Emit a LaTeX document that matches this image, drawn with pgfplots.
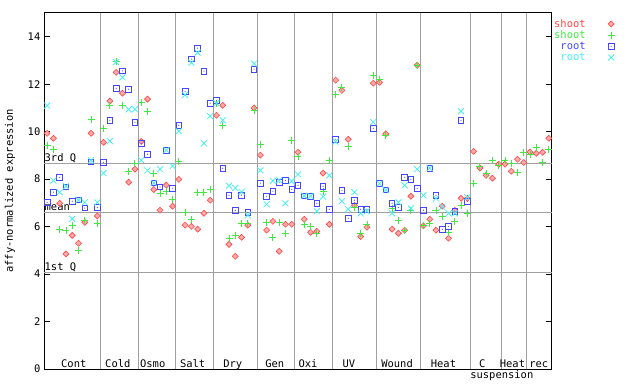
\documentclass[border=0pt]{standalone}
\usepackage{fontspec}
\setmainfont{DejaVu Sans Mono}
\usepackage{pgfplots}
\usepackage{pgfplotstable}
\pgfplotsset{compat=1.18}
\definecolor{gpred}{HTML}{FF4545}
\definecolor{gpgreen}{HTML}{40E840}
\definecolor{gpblue}{HTML}{4545FF}
\definecolor{gpcyan}{HTML}{45F0F0}
\definecolor{gpgrid}{HTML}{A0A0A0}
\pgfdeclareplotmark{gpdiamond}{%
  \pgfpathmoveto{\pgfqpoint{0pt}{\pgfplotmarksize}}%
  \pgfpathlineto{\pgfqpoint{\pgfplotmarksize}{0pt}}%
  \pgfpathlineto{\pgfqpoint{0pt}{-\pgfplotmarksize}}%
  \pgfpathlineto{\pgfqpoint{-\pgfplotmarksize}{0pt}}%
  \pgfpathclose\pgfusepathqfillstroke}
\pgfdeclareplotmark{gpsquare}{%
  \pgfpathrectangle{\pgfqpoint{-\pgfplotmarksize}{-\pgfplotmarksize}}{\pgfqpoint{2\pgfplotmarksize}{2\pgfplotmarksize}}%
  \pgfusepathqstroke
  \pgfpathcircle{\pgfpointorigin}{0.6pt}\pgfusepathqfill}

\pgfplotstableread{
x y
0 9.93
1 9.72
2 6.98
3 4.85
4 5.63
5 5.30
6 6.18
7 9.93
8 6.45
9 9.55
10 11.29
11 12.50
12 11.62
13 7.87
14 8.42
15 9.59
16 11.37
17 7.56
18 6.69
19 7.75
20 6.86
21 7.99
22 6.06
23 6.01
24 5.89
25 6.56
26 7.11
27 10.69
28 11.11
29 5.25
30 4.75
31 5.55
32 6.06
33 11.00
34 9.01
35 5.85
36 6.22
37 4.96
38 6.10
39 6.10
40 9.13
41 6.31
42 5.76
43 5.80
44 8.25
45 6.10
46 12.17
47 11.74
48 9.68
49 6.90
50 5.58
51 5.97
52 12.04
53 12.08
54 9.91
55 5.89
56 5.72
57 5.85
58 7.28
59 12.80
60 6.03
61 6.31
62 5.85
63 6.86
64 5.51
65 6.68
66 7.19
67 7.19
68 9.17
69 8.47
70 8.16
71 8.04
72 8.63
73 8.63
74 8.33
75 8.84
76 8.70
77 9.14
78 9.09
79 9.13
80 9.72
}\shootA

\pgfplotstableread{
x y
0 9.40
1 9.26
2 5.89
3 5.85
4 6.06
5 5.00
6 6.24
7 10.52
8 6.14
9 10.14
10 11.10
11 12.95
12 11.11
13 8.33
14 8.67
15 11.22
16 10.87
17 8.25
18 7.40
19 7.49
20 7.15
21 8.75
22 6.60
23 6.31
24 7.45
25 7.45
26 7.57
27 11.20
28 10.27
29 5.51
30 5.63
31 6.14
32 6.14
33 10.90
34 9.47
35 6.18
36 5.55
37 6.18
38 5.72
39 9.64
40 8.96
41 6.10
42 6.01
43 5.72
44 7.49
45 8.79
46 11.58
47 11.87
48 9.38
49 6.81
50 5.72
51 6.10
52 12.35
53 12.21
54 9.85
55 6.77
56 6.27
57 5.85
58 6.69
59 12.80
60 6.03
61 6.14
62 6.69
63 6.43
64 5.76
65 6.22
66 6.90
67 6.56
68 7.83
69 8.55
70 8.22
71 8.79
72 8.59
73 8.79
74 8.67
75 8.29
76 9.13
77 9.05
78 9.35
79 8.71
80 9.26
}\shootB

\pgfplotstableread{
x y
0 7.02
1 7.45
2 8.08
3 7.68
4 7.07
5 7.12
6 6.78
7 8.72
8 6.81
9 8.71
10 10.48
11 11.82
12 12.56
13 11.79
14 10.40
15 9.51
16 9.05
17 7.84
18 7.67
19 9.22
20 7.62
21 10.27
22 11.70
23 13.06
24 13.52
25 12.55
26 11.20
27 11.31
28 8.46
29 7.32
30 6.69
31 7.32
32 6.60
33 12.63
34 7.83
35 7.28
36 7.49
37 7.87
38 7.94
39 7.57
40 7.74
41 7.30
42 7.28
43 6.98
44 7.70
45 6.73
46 9.68
47 7.53
48 6.35
49 7.11
50 6.73
51 6.73
52 10.14
53 7.81
54 7.54
55 6.98
56 6.81
57 8.08
58 7.99
59 7.61
60 6.69
61 8.46
62 7.32
63 5.89
64 6.01
65 6.65
66 10.48
67 7.07
}\rootA

\pgfplotstableread{
x y
0 11.10
1 7.94
2 7.45
3 7.70
4 6.33
5 7.12
6 7.02
7 8.79
8 7.02
9 8.25
10 9.60
11 12.93
12 12.29
13 10.94
14 10.94
15 8.80
16 8.37
17 7.84
18 8.42
19 9.22
20 8.55
21 10.02
22 11.55
23 12.91
24 13.33
25 9.51
26 10.65
27 11.20
28 10.48
29 7.72
30 7.63
31 7.46
32 6.48
33 12.87
34 8.37
35 6.94
36 7.93
37 7.95
38 6.98
39 7.91
40 8.20
41 7.30
42 7.28
43 6.65
44 7.26
45 8.16
46 9.58
47 7.07
48 6.73
49 7.45
50 6.56
51 6.65
52 10.40
53 7.81
54 7.54
55 6.56
56 7.02
57 7.74
58 6.77
59 8.42
60 7.32
61 8.46
62 7.19
63 6.83
64 6.56
65 6.56
66 10.86
67 7.24
}\rootB

\begin{document}
\fontsize{10.5}{12}\selectfont
\begin{tikzpicture}
\begin{axis}[
  scale only axis, width=508bp, height=356bp,
  xmin=-0.5, xmax=80.5, ymin=0, ymax=15,
  xtick=\empty,
  ytick={0,2,...,14},
  tick align=inside, tick pos=both, yticklabel pos=left,
  major tick length=6bp,
  tick style={black, line width=0.8bp},
  axis line style={line width=1bp},
  /pgf/number format/assume math mode=true,
  extra x ticks={8.5,14.5,20.5,26.5,33.5,39.5,45.5,52.5,59.5,67.5,72.5,76.5},
  extra x tick labels={},
  extra x tick style={grid=major, major tick length=0pt},
  extra y ticks={4.07,6.60,8.67},
  extra y tick labels={},
  extra y tick style={grid=major, major tick length=0pt},
  grid style={gpgrid, line width=1bp},
  clip=false,
  ylabel={affy-normalized expression},
  every axis y label/.style={at={(axis description cs:-0.067,0.5)},rotate=90,anchor=center},
  legend plot pos=right,
  legend cell align=right,
  legend style={at={(axis description cs:1,1)}, anchor=north west, draw=none, fill=none,
    inner sep=0pt, row sep=-2bp, yshift=-4bp, xshift=0bp,
    font=\fontsize{10.5}{11}\selectfont,
    /tikz/every odd column/.style={column sep=20bp}},
]
\addplot[only marks, mark=gpdiamond, mark size=3bp, draw=gpred, fill=gpred!45, line width=0.6bp] table {\shootA};
\addlegendentry[text=gpred]{shoot}
\addplot[only marks, mark=+, mark size=3.5bp, draw=gpgreen, line width=0.9bp] table {\shootB};
\addlegendentry[text=gpgreen]{shoot}
\addplot[only marks, mark=gpsquare, mark size=2.8bp, draw=gpblue, fill=gpblue, line width=0.8bp] table {\rootA};
\addlegendentry[text=gpblue]{root}
\addplot[only marks, mark=x, mark size=4.2bp, draw=gpcyan, line width=0.8bp] table {\rootB};
\addlegendentry[text=gpcyan]{root}

\node[anchor=base west, inner sep=0.5bp, yshift=1.5bp] at (axis cs:-0.5,8.67) {3rd Q};
\node[anchor=base west, inner sep=0.5bp, yshift=1.5bp] at (axis cs:-0.5,6.60) {mean};
\node[anchor=base west, inner sep=0.5bp, yshift=1.5bp] at (axis cs:-0.5,4.07) {1st Q};

\node[anchor=base, inner sep=0pt] at (axis cs:4.25,0.07) {Cont};
\node[anchor=base, inner sep=0pt] at (axis cs:11.27,0.07) {Cold};
\node[anchor=base, inner sep=0pt] at (axis cs:16.84,0.07) {Osmo};
\node[anchor=base, inner sep=0pt] at (axis cs:23.2,0.07) {Salt};
\node[anchor=base, inner sep=0pt] at (axis cs:29.6,0.07) {Dry};
\node[anchor=base, inner sep=0pt] at (axis cs:36.3,0.07) {Gen};
\node[anchor=base, inner sep=0pt] at (axis cs:41.6,0.07) {Oxi};
\node[anchor=base, inner sep=0pt] at (axis cs:48.1,0.07) {UV};
\node[anchor=base, inner sep=0pt] at (axis cs:55.8,0.07) {Wound};
\node[anchor=base, inner sep=0pt] at (axis cs:63.2,0.07) {Heat};
\node[anchor=base, inner sep=0pt] at (axis cs:69.4,0.07) {C};
\node[anchor=base, inner sep=0pt] at (axis cs:74.2,0.07) {Heat};
\node[anchor=base, inner sep=0pt] at (axis cs:78.4,0.07) {rec};
\node[anchor=base, inner sep=0pt] at (axis cs:72.5,-0.42) {suspension};

\coordinate (SW) at (rel axis cs:0,0);
\end{axis}
\pgfresetboundingbox
\path[use as bounding box] ([shift={(-44bp,-15bp)}]SW) rectangle ([shift={(596bp,369bp)}]SW);
\end{tikzpicture}
\end{document}
